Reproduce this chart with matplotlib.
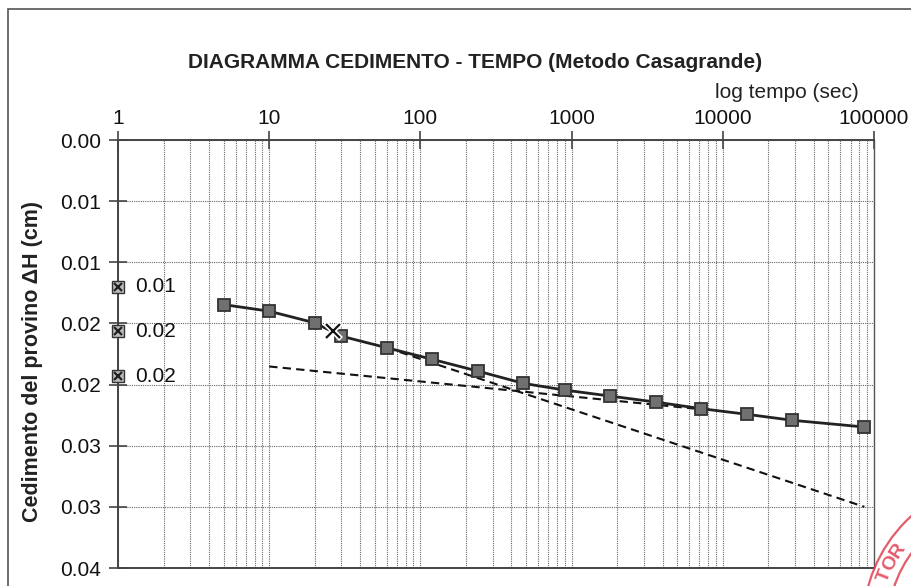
import numpy as np
import matplotlib
matplotlib.use("Agg")
import matplotlib.pyplot as plt
from matplotlib.patches import Rectangle, Circle

# ---------------- data ----------------
time_s = [5, 10, 20, 30, 60, 120, 240, 480, 900, 1800, 3600, 7200, 14400, 28800, 86400]
settlement_cm = [0.01346, 0.01400, 0.01495, 0.01604, 0.01699, 0.01794, 0.01890, 0.01990,
                 0.02045, 0.02094, 0.02143, 0.02197, 0.02243, 0.02292, 0.02347]

# Casagrande construction: tangent lines
tangent_final_t = [10, 7200]
tangent_final_d = [0.01852, 0.02202]
tangent_primary_t = [60, 86400]
tangent_primary_d = [0.01699, 0.03000]

# reference settlements d0, d50, d100 marked on the left axis
ref_t = [1, 1, 1]
ref_d = [0.01200, 0.01565, 0.01933]
ref_labels = ["0.01", "0.02", "0.02"]

# t50 point
t50_t = [26.5]
t50_d = [0.01565]

x_ticks = [1, 10, 100, 1000, 10000, 100000]
x_tick_labels = ["1", "10", "100", "1000", "10000", "100000"]
y_ticks = [0.000, 0.005, 0.010, 0.015, 0.020, 0.025, 0.030, 0.035]
y_tick_labels = ["0.00", "0.01", "0.01", "0.02", "0.02", "0.03", "0.03", "0.04"]

title = "DIAGRAMMA CEDIMENTO - TEMPO (Metodo Casagrande)"
x_label = "log tempo (sec)"
y_label = "Cedimento del provino ΔH (cm)"

# ---------------- figure ----------------
plt.rcParams['font.family'] = ['Liberation Sans', 'DejaVu Sans']
W, H = 912, 586
fig = plt.figure(figsize=(W / 100, H / 100), dpi=100)
ax = fig.add_axes([118 / W, 1 - 568 / H, (874 - 118) / W, (568 - 140) / H])

ax.set_xscale('log')
ax.set_xlim(1, 100000)
ax.set_ylim(0.035, 0.0)

ax.xaxis.tick_top()
ax.set_xticks(x_ticks)
ax.set_xticklabels(x_tick_labels)
ax.xaxis.set_minor_locator(matplotlib.ticker.LogLocator(base=10, subs=np.arange(2, 10)))
ax.xaxis.set_minor_formatter(matplotlib.ticker.NullFormatter())
ax.set_yticks(y_ticks)
ax.set_yticklabels(y_tick_labels)

ax.tick_params(axis='x', which='major', direction='inout', length=13, width=1.2,
               color='#444444', labelsize=15, pad=2)
ax.tick_params(axis='x', which='minor', length=0)
ax.tick_params(axis='y', which='major', direction='inout', length=13, width=1.2,
               color='#444444', labelsize=15, pad=6)
ax.tick_params(labelcolor='#111111')

grid_style = dict(color='#666666', linestyle=(0, (1, 1)), linewidth=0.8)
ax.grid(True, which='major', axis='both', **grid_style)
ax.grid(True, which='minor', axis='x', **grid_style)
ax.set_axisbelow(True)

for side in ['left', 'top', 'bottom']:
    ax.spines[side].set_color('#444444')
    ax.spines[side].set_linewidth(1.4)
ax.spines['right'].set_color('#555555')
ax.spines['right'].set_linewidth(1.0)

# tangent lines
ax.plot(tangent_final_t, tangent_final_d, color='#111111', linestyle=(0, (4, 2.5)),
        linewidth=1.5, zorder=3)
ax.plot(tangent_primary_t, tangent_primary_d, color='#111111', linestyle=(0, (4, 2.5)),
        linewidth=1.5, zorder=3)

# data curve
ax.plot(time_s, settlement_cm, color='#222222', linewidth=2.0, marker='s',
        markersize=9, markerfacecolor='#707070', markeredgecolor='#333333',
        markeredgewidth=1.3, zorder=4)

# reference markers on the axis
ax.plot(ref_t, ref_d, linestyle='none', marker='s', markersize=8,
        markerfacecolor='#bbbbbb', markeredgecolor='#333333', markeredgewidth=1.0,
        zorder=5, clip_on=False)
ax.plot(ref_t, ref_d, linestyle='none', marker='x', markersize=6,
        markeredgecolor='#222222', markeredgewidth=1.6, zorder=6, clip_on=False)
for t, d, lab in zip(ref_t, ref_d, ref_labels):
    ax.annotate(lab, xy=(t, d), xytext=(12, 0), textcoords='offset points',
                ha='left', va='center', fontsize=15, color='#111111', zorder=6)

# t50 marker
ax.plot(t50_t, t50_d, linestyle='none', marker='x', markersize=11,
        markeredgecolor='white', markeredgewidth=4.0, zorder=6)
ax.plot(t50_t, t50_d, linestyle='none', marker='x', markersize=10,
        markeredgecolor='#111111', markeredgewidth=1.6, zorder=7)

# texts
fig.text(475 / W, 1 - 62 / H, title, ha='center', va='center', fontsize=15,
         fontweight='bold', color='#222222')
fig.text(787 / W, 1 - 92 / H, x_label, ha='center', va='center', fontsize=15,
         color='#222222')
fig.text(33 / W, 1 - 362 / H, y_label, ha='center', va='center', rotation=90,
         fontsize=15.5, fontweight='bold', color='#222222')

# outer frame of the sheet
fig.add_artist(Rectangle((8 / W, -0.2), 2.0, 1 - 9 / H + 0.2, transform=fig.transFigure,
                         fill=False, edgecolor='#555555', linewidth=1.2))

# red stamp (partially visible)
cx, cy = 10.10, (H - 625) / 100
for r in (1.47, 1.22):
    fig.add_artist(Circle((cx, cy), r, transform=fig.dpi_scale_trans, fill=False,
                          edgecolor='#e04050', linewidth=1.6, alpha=0.85))
for ch, ang in zip("TOR", (158.5, 152.5, 146.5)):
    a = np.deg2rad(ang)
    fig.text(cx + 1.345 * np.cos(a), cy + 1.345 * np.sin(a), ch,
             transform=fig.dpi_scale_trans, ha='center', va='center', rotation=ang - 90,
             fontsize=14, fontweight='bold', color='#e04050', alpha=0.85)

fig.savefig("out.png", dpi=100)
